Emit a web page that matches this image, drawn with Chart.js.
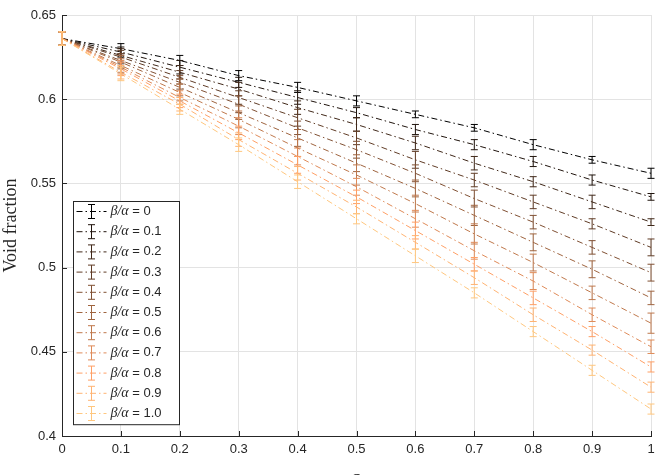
<!DOCTYPE html>
<html>
<head>
<meta charset="utf-8">
<script src="https://cdn.jsdelivr.net/npm/chart.js@4/dist/chart.umd.min.js"></script>
<style>
  html, body { margin: 0; padding: 0; overflow: hidden; background: #fff; }
  #wrap { position: relative; width: 663px; height: 495px; }
</style>
</head>
<body>
<div id="wrap"><canvas id="voidChart"></canvas></div>
<script>
// x positions and legend ratios
const xValues = [0, 0.1, 0.2, 0.3, 0.4, 0.5, 0.6, 0.7, 0.8, 0.9, 1];
const ratios = ['0', '0.1', '0.2', '0.3', '0.4', '0.5', '0.6', '0.7', '0.8', '0.9', '1.0'];
const xTicks = [0, 0.1, 0.2, 0.3, 0.4, 0.5, 0.6, 0.7, 0.8, 0.9, 1];
const yTicks = [0.4, 0.45, 0.5, 0.55, 0.6, 0.65];

// void fraction, one array per beta/alpha
const vf0  = [0.636, 0.630, 0.623, 0.614, 0.607, 0.599, 0.591, 0.583, 0.573, 0.564, 0.556];
const vf1  = [0.636, 0.628, 0.619, 0.610, 0.601, 0.592, 0.582, 0.573, 0.563, 0.552, 0.542];
const vf2  = [0.636, 0.626, 0.616, 0.606, 0.595, 0.585, 0.574, 0.562, 0.551, 0.539, 0.527];
const vf3  = [0.636, 0.625, 0.613, 0.601, 0.589, 0.577, 0.564, 0.552, 0.539, 0.526, 0.512];
const vf4  = [0.636, 0.623, 0.610, 0.597, 0.583, 0.570, 0.556, 0.541, 0.527, 0.512, 0.497];
const vf5  = [0.636, 0.622, 0.607, 0.592, 0.577, 0.562, 0.547, 0.531, 0.515, 0.499, 0.482];
const vf6  = [0.636, 0.620, 0.604, 0.588, 0.571, 0.555, 0.538, 0.520, 0.503, 0.485, 0.467];
const vf7  = [0.636, 0.619, 0.601, 0.584, 0.566, 0.548, 0.529, 0.510, 0.492, 0.472, 0.453];
const vf8  = [0.636, 0.618, 0.599, 0.580, 0.561, 0.542, 0.522, 0.502, 0.482, 0.462, 0.441];
const vf9  = [0.636, 0.616, 0.597, 0.576, 0.556, 0.536, 0.515, 0.494, 0.472, 0.451, 0.429];
const vf10 = [0.636, 0.615, 0.594, 0.573, 0.551, 0.529, 0.507, 0.485, 0.462, 0.439, 0.416];

// error bar half-widths
const err0  = [0.004, 0.003, 0.003, 0.003, 0.003, 0.003, 0.002, 0.002, 0.003, 0.002, 0.003];
const err1  = [0.004, 0.003, 0.004, 0.003, 0.004, 0.003, 0.003, 0.003, 0.003, 0.003, 0.002];
const err2  = [0.004, 0.004, 0.004, 0.004, 0.004, 0.004, 0.004, 0.004, 0.003, 0.004, 0.002];
const err3  = [0.004, 0.004, 0.004, 0.004, 0.005, 0.004, 0.005, 0.004, 0.004, 0.003, 0.005];
const err4  = [0.004, 0.004, 0.004, 0.005, 0.004, 0.005, 0.005, 0.005, 0.004, 0.004, 0.005];
const err5  = [0.004, 0.004, 0.005, 0.004, 0.005, 0.005, 0.005, 0.006, 0.005, 0.005, 0.004];
const err6  = [0.004, 0.004, 0.005, 0.005, 0.005, 0.006, 0.005, 0.006, 0.005, 0.004, 0.006];
const err7  = [0.004, 0.004, 0.004, 0.005, 0.005, 0.005, 0.005, 0.005, 0.005, 0.004, 0.004];
const err8  = [0.004, 0.004, 0.004, 0.004, 0.005, 0.004, 0.005, 0.004, 0.004, 0.003, 0.003];
const err9  = [0.004, 0.004, 0.004, 0.004, 0.004, 0.004, 0.004, 0.004, 0.004, 0.003, 0.003];
const err10 = [0.004, 0.004, 0.003, 0.004, 0.004, 0.003, 0.004, 0.003, 0.003, 0.003, 0.003];

const series = [vf0, vf1, vf2, vf3, vf4, vf5, vf6, vf7, vf8, vf9, vf10];
const errors = [err0, err1, err2, err3, err4, err5, err6, err7, err8, err9, err10];

// matlab "copper" colours
function copper(t) {
    const r = Math.round(255 * Math.min(1, 1.25 * t));
    const g = Math.round(255 * 0.7812 * t);
    const b = Math.round(255 * 0.4975 * t);
    return 'rgb(' + r + ',' + g + ',' + b + ')';
}
const colors = series.map((s, i) => copper(i / (series.length - 1)));
const dash = [6, 3, 1.5, 3];
const axisColor = '#262626';
const tickFont = '13px "Liberation Sans", Arial, sans-serif';

const datasets = series.map((vals, i) => ({
    label: 'β/α = ' + ratios[i],
    data: xValues.map((x, j) => ({x: x, y: vals[j]})),
    borderColor: colors[i],
    backgroundColor: colors[i],
    borderWidth: 1,
    borderDash: dash,
    pointRadius: 0,
    tension: 0,
    fill: false,
    order: series.length - i
}));

const errorBars = {
    id: 'errorBars',
    afterDatasetsDraw(chart) {
        const ctx = chart.ctx;
        const yScale = chart.scales.y;
        ctx.save();
        chart.data.datasets.forEach((ds, i) => {
            const meta = chart.getDatasetMeta(i);
            ctx.strokeStyle = colors[i];
            ctx.lineWidth = 1;
            ctx.setLineDash([]);
            meta.data.forEach((pt, j) => {
                const v = series[i][j], e = errors[i][j];
                const top = yScale.getPixelForValue(v + e);
                const bot = yScale.getPixelForValue(v - e);
                const x = pt.x;
                ctx.beginPath();
                ctx.moveTo(x, top); ctx.lineTo(x, bot);
                ctx.moveTo(x - 3.5, top); ctx.lineTo(x + 3.5, top);
                ctx.moveTo(x - 3.5, bot); ctx.lineTo(x + 3.5, bot);
                ctx.stroke();
            });
        });
        ctx.restore();
    }
};

const innerTicks = {
    id: 'innerTicks',
    afterDraw(chart) {
        const ctx = chart.ctx;
        const a = chart.chartArea;
        ctx.save();
        ctx.strokeStyle = axisColor;
        ctx.lineWidth = 1;
        ctx.beginPath();
        xTicks.forEach(t => {
            const px = Math.round(chart.scales.x.getPixelForValue(t)) + 0.5;
            ctx.moveTo(px, a.bottom); ctx.lineTo(px, a.bottom - 5);
        });
        yTicks.forEach(t => {
            const py = Math.round(chart.scales.y.getPixelForValue(t)) + 0.5;
            ctx.moveTo(a.left, py); ctx.lineTo(a.left + 5, py);
        });
        ctx.stroke();
        ctx.restore();
    }
};

const boxLegend = {
    id: 'boxLegend',
    afterDraw(chart) {
        const ctx = chart.ctx;
        const left = 73.5, top = 201.5, w = 106, rowH = 20.2;
        const h = rowH * series.length + 1;
        ctx.save();
        ctx.fillStyle = '#fff';
        ctx.fillRect(left, top, w, h);
        ctx.strokeStyle = axisColor;
        ctx.lineWidth = 1;
        ctx.setLineDash([]);
        ctx.strokeRect(left, top, w, h);
        ctx.textBaseline = 'middle';
        series.forEach((s, i) => {
            const cy = top + 10 + i * rowH;
            ctx.strokeStyle = colors[i];
            ctx.setLineDash(dash);
            ctx.beginPath();
            ctx.moveTo(left + 3, cy); ctx.lineTo(left + 33, cy);
            ctx.stroke();
            ctx.setLineDash([]);
            const bx = left + 18;
            ctx.beginPath();
            ctx.moveTo(bx, cy - 7); ctx.lineTo(bx, cy + 7);
            ctx.moveTo(bx - 3.5, cy - 7); ctx.lineTo(bx + 3.5, cy - 7);
            ctx.moveTo(bx - 3.5, cy + 7); ctx.lineTo(bx + 3.5, cy + 7);
            ctx.stroke();
            let tx = left + 37;
            ctx.fillStyle = axisColor;
            ctx.font = 'italic 14px "Liberation Serif", "DejaVu Serif", serif';
            ctx.fillText('β/α', tx, cy);
            tx += ctx.measureText('β/α').width;
            ctx.font = tickFont;
            ctx.fillText(' = ' + ratios[i], tx, cy);
        });
        ctx.restore();
    }
};

const ctx = document.getElementById('voidChart').getContext('2d');
const voidChart = new Chart(ctx, {
    type: 'line',
    data: {datasets: datasets},
    options: {
        responsive: true,
        maintainAspectRatio: false,
        animation: false,
        layout: {padding: {top: 15, right: 12, left: 0, bottom: 0}},
        plugins: {
            legend: {display: false},
            tooltip: {enabled: false}
        },
        scales: {
            x: {
                type: 'linear',
                min: 0, max: 1,
                afterFit: s => { s.height = 59; },
                afterBuildTicks: s => { s.ticks = xTicks.map(v => ({value: v})); },
                ticks: {
                    color: axisColor,
                    font: {family: '"Liberation Sans", Arial, sans-serif', size: 13},
                    padding: 6,
                    maxRotation: 0,
                    callback: v => String(v)
                },
                grid: {color: '#e3e3e3', drawTicks: false},
                border: {display: true, color: axisColor, width: 1},
                title: {
                    display: true,
                    text: 'S',
                    color: axisColor,
                    font: {family: '"Liberation Serif", serif', size: 17},
                    padding: {top: 0, bottom: 4}
                }
            },
            y: {
                min: 0.4, max: 0.65,
                afterFit: s => { s.width = 62; },
                afterBuildTicks: s => { s.ticks = yTicks.map(v => ({value: v})); },
                ticks: {
                    color: axisColor,
                    font: {family: '"Liberation Sans", Arial, sans-serif', size: 13},
                    padding: 6,
                    callback: v => String(v)
                },
                grid: {color: '#e3e3e3', drawTicks: false},
                border: {display: true, color: axisColor, width: 1},
                title: {
                    display: true,
                    text: 'Void fraction',
                    color: axisColor,
                    font: {family: '"Liberation Serif", serif', size: 18},
                    padding: {top: 0, bottom: 0}
                }
            }
        }
    },
    plugins: [errorBars, innerTicks, boxLegend]
});
</script>
</body>
</html>
